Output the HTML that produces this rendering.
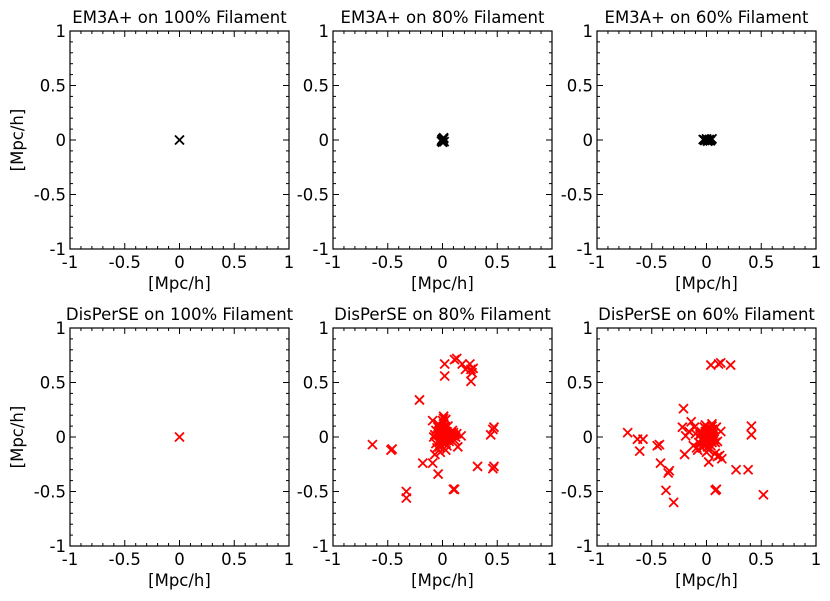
<!DOCTYPE html>
<html><head><meta charset="utf-8"><style>
body{margin:0;background:#fff}
svg{display:block;font-family:"DejaVu Sans","Liberation Sans",sans-serif}
</style></head><body>
<svg id="fig" width="830" height="601" viewBox="0 0 830 601"></svg>
<script>
const panelTitles=["EM3A+ on 100% Filament","EM3A+ on 80% Filament","EM3A+ on 60% Filament","DisPerSE on 100% Filament","DisPerSE on 80% Filament","DisPerSE on 60% Filament"];
const tickLabels=["-1","-0.5","0","0.5","1"];
const tickValues=[-1,-0.5,0,0.5,1];
const emX100=[0],emY100=[0];
const emX80=[0,0.01,-0.01,0.005,0.015,-0.005,0.0,0.01],emY80=[0,0.01,-0.01,0.015,-0.015,0.005,-0.02,0.02];
const emX60=[-0.03,-0.015,0,0.01,0.025,0.04,0.05,0.02,-0.02,0.035,0.005],emY60=[0.005,-0.005,0.01,-0.01,0.005,0,0.01,-0.005,0.0,-0.008,0.0];
const dsX100=[0],dsY100=[0];
const dsX80=[0.02,0.11,0.13,0.18,0.21,0.25,0.26,0.27,0.28,0.26,0.02,-0.21,-0.64,-0.47,-0.46,-0.33,-0.33,-0.18,-0.09,-0.07,-0.04,0.10,0.11,0.32,0.46,0.47,0.44,0.47,0.46,-0.09,0.01,0.03,0.14,0.17,
 0,0.02,-0.02,0.04,-0.04,0.06,-0.06,0.08,0.1,0.12,0.03,-0.03,0.05,0.01,-0.01,0.07,-0.05,0.09,0.02,0.0,-0.08,0.11,0.04,-0.02,-0.06,-0.04,0.06,0.0,0.03,-0.07,
 0.01,-0.01,0.02,-0.02,0.03,-0.03,0.0,0.01,0.02,-0.01,0.04,-0.03,0.05,0.0,0.015,-0.015,0.025,-0.025,0.035,0.005,0.045,-0.005,0.055,0.065,0.07,0.08,-0.02,0.0,0.01,0.03,-0.04,-0.03,-0.02,0.02,0.13,0.1];
const dsY80=[0.67,0.71,0.72,0.67,0.62,0.67,0.62,0.59,0.63,0.51,0.56,0.34,-0.07,-0.12,-0.11,-0.50,-0.56,-0.24,-0.24,-0.16,-0.34,-0.48,-0.48,-0.27,-0.29,-0.27,0.02,0.09,0.07,0.15,0.19,0.16,-0.09,0.01,
 0,0.03,-0.02,0.05,0.02,-0.04,0.06,0.04,0.02,0.0,-0.06,0.08,0.1,0.12,-0.08,-0.02,-0.1,0.06,0.1,-0.05,0.0,-0.03,-0.08,0.04,-0.06,0.12,0.0,0.07,-0.12,0.02,
 0.0,0.01,-0.01,0.02,-0.02,0.03,0.04,-0.03,0.05,0.06,0.0,-0.05,0.01,0.08,-0.01,0.02,-0.03,0.05,0.02,-0.04,-0.01,0.07,0.03,0.0,0.03,0.01,-0.07,0.15,0.17,-0.02,0.09,-0.09,-0.14,0.09,0.03,0.04];
const dsX60=[0.04,0.11,0.13,0.22,-0.21,-0.72,-0.63,-0.58,-0.61,-0.45,-0.43,-0.42,-0.35,-0.34,-0.37,-0.30,-0.20,-0.22,-0.19,-0.14,-0.11,-0.12,0.02,0.10,0.14,0.12,0.27,0.38,0.08,0.09,0.52,0.41,0.41,0.09,0.13,-0.16,-0.08,
 0,0.02,-0.02,0.04,-0.04,0.06,-0.06,0.08,0.03,-0.03,0.05,0.01,-0.01,0.07,-0.05,0.02,0.0,0.04,-0.02,0.06,-0.04,0.03,0.0,0.05,0.1,0.08,
 0.01,-0.01,0.02,-0.02,0.03,-0.03,0.0,0.01,0.02,-0.01,0.04,-0.03,0.05,0.0,0.015,-0.015,0.025,-0.025,0.035,0.005,0.045,-0.005,0.055,0.06,-0.06,-0.05,0.07,-0.07,-0.1,-0.09];
const dsY60=[0.66,0.67,0.68,0.66,0.26,0.04,-0.02,-0.02,-0.13,-0.08,-0.07,-0.24,-0.33,-0.31,-0.49,-0.60,-0.16,0.09,0.01,0.14,0.09,-0.08,-0.23,-0.18,-0.20,-0.17,-0.30,-0.30,-0.49,-0.48,-0.53,0.10,0.02,0.09,0.05,0.05,-0.12,
 0,0.02,-0.02,0.04,-0.03,0.06,0.02,-0.05,0.08,-0.07,0.1,-0.09,0.11,0.0,0.04,-0.12,0.07,-0.08,0.09,0.01,-0.1,0.05,-0.14,0.12,-0.04,-0.15,0.06,
 0.0,0.01,-0.01,0.02,-0.02,0.03,0.04,-0.03,0.05,0.06,0.0,-0.05,0.01,0.08,-0.01,0.02,-0.03,0.05,0.02,-0.04,-0.01,0.07,0.03,-0.06,0.05,-0.02,-0.05,0.03,-0.1,0.06];
const seriesX=[emX100,emX80,emX60,dsX100,dsX80,dsX60];
const seriesY=[emY100,emY80,emY60,dsY100,dsY80,dsY60];

const NS="http://www.w3.org/2000/svg";
const svg=document.getElementById('fig');
function mk(tag,attrs,parent){const e=document.createElementNS(NS,tag);for(const k in attrs)e.setAttribute(k,attrs[k]);(parent||svg).appendChild(e);return e;}
const lefts=[70,333,597],tops=[31,328],W=219,H=218;
for(let p=0;p<6;p++){
  const col=p%3,row=Math.floor(p/3);
  const L=lefts[col],T=tops[row];
  const sx=v=>L+(v+1)/2*W, sy=v=>T+(1-v)/2*H;
  const g=mk('g',{});
  
  
  const t=mk('text',{x:L+W/2,y:T-8,'text-anchor':'middle','font-size':'16.5'},g);
  t.textContent=panelTitles[p];
  
  
  for(let i=-10;i<=10;i++){
    const v=i/10,major=i%5===0,len=major?6:3;
    const x=sx(v),y=sy(v);
    mk('line',{x1:x,y1:T+H,x2:x,y2:T+H-len,stroke:'#000','stroke-width':1},g);
    mk('line',{x1:x,y1:T,x2:x,y2:T+len,stroke:'#000','stroke-width':1},g);
    mk('line',{x1:L,y1:y,x2:L+len,y2:y,stroke:'#000','stroke-width':1},g);
    mk('line',{x1:L+W,y1:y,x2:L+W-len,y2:y,stroke:'#000','stroke-width':1},g);
  }
  tickValues.forEach((v,i)=>{
    const a=mk('text',{x:sx(v),y:T+H+19,'text-anchor':'middle','font-size':'16.5'},g);
    a.textContent=tickLabels[i];
    
    
    const b=mk('text',{x:L-4,y:sy(v)+6,'text-anchor':'end','font-size':'16.5'},g);
    b.textContent=tickLabels[i];
    
    
  });
  const xl=mk('text',{x:L+W/2,y:T+H+40,'text-anchor':'middle','font-size':'16.5'},g);
  xl.textContent='[Mpc/h]';
  
  
  if(col===0){
    const yl=mk('text',{x:0,y:0,'text-anchor':'middle','font-size':'16.5',transform:`translate(23,${T+H/2}) rotate(-90)`},g);
    yl.textContent='[Mpc/h]';
    
    
  }
  const color=row===0?'#000':'#f00';
  const xs=seriesX[p],ys=seriesY[p];
  for(let i=0;i<xs.length;i++){
    const cx=sx(xs[i]),cy=sy(ys[i]),r=4.5;
    const m=mk('path',{d:`M${cx-r},${cy-r}L${cx+r},${cy+r}M${cx-r},${cy+r}L${cx+r},${cy-r}`,stroke:color,'stroke-width':1.8,fill:'none'},g);
    
    
  }
  mk('rect',{x:L,y:T,width:W,height:H,fill:'none',stroke:'#000','stroke-width':1.2},g);
}
</script>
</body></html>
